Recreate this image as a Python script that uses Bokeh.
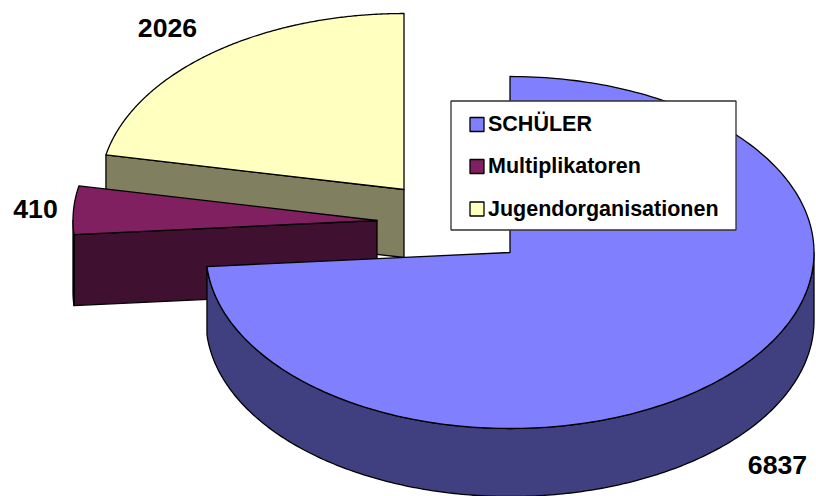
import numpy as np
from bokeh.plotting import figure
from bokeh.embed import file_html
from bokeh.resources import INLINE
from bokeh.core.properties import value

categories = ["SCHÜLER", "Multiplikatoren", "Jugendorganisationen"]
values = [6837, 410, 2026]
labels = ["6837", "410", "2026"]
top_colors = ["#8080FF", "#802060", "#FFFFC0"]
side_colors = ["#404080", "#401030", "#808060"]

# layout, in page pixels
centers = [(509.5, 252.0), (376.5, 220.0), (403.5, 189.0)]
RX, RY, DEPTH = 304.0, 176.0, 68.0
label_pos = [(777, 464), (35, 208), (167, 27)]
FONT = value("Liberation Sans")
LW = 1.3

p = figure(width=816, height=496, x_range=(0, 816), y_range=(496, 0),
           toolbar_location=None, output_backend="svg", min_border=0,
           outline_line_color=None, background_fill_color="white")
p.axis.visible = False
p.grid.visible = False

fr = np.cumsum([0] + values) / sum(values) * 2 * np.pi
slices = [(fr[i], fr[i + 1]) for i in range(3)]


def arc(c, a, b, dy=0.0, n=240):
    t = np.linspace(a, b, n)
    return c[0] + RX * np.sin(t), c[1] - RY * np.cos(t) + dy


def wall(xs, ys, color):
    p.patch(xs, ys, fill_color=color, line_color="black", line_width=LW, line_join="round")


# yellow wedge: cut face then top
c = centers[2]
a, b = slices[2]
ex, ey = arc(c, a, a, n=1)
wall([c[0], ex[0], ex[0], c[0]], [c[1], ey[0], ey[0] + DEPTH, c[1] + DEPTH], side_colors[2])
x, y = arc(c, a, b)
wall(np.r_[c[0], x], np.r_[c[1], y], top_colors[2])

# purple wedge: front face, short outer wall, then top
c = centers[1]
a, b = slices[1]
ex, ey = arc(c, a, a, n=1)
wall([c[0], ex[0], ex[0], c[0]], [c[1], ey[0], ey[0] + DEPTH + 3, c[1] + DEPTH + 3], side_colors[1])
x, y = arc(c, a, 1.5 * np.pi, n=30)
wall(np.r_[x, x[::-1]], np.r_[y, y[::-1] + DEPTH + 3], side_colors[1])
x, y = arc(c, a, b)
wall(np.r_[c[0], x], np.r_[c[1], y], top_colors[1])

# blue wedge: outer wall then top
c = centers[0]
a, b = slices[0]
x, y = arc(c, 0.5 * np.pi, b)
wall(np.r_[x, x[::-1]], np.r_[y, y[::-1] + DEPTH], side_colors[0])
x, y = arc(c, a, b)
wall(np.r_[c[0], x], np.r_[c[1], y], top_colors[0])

# legend
p.quad(left=[450.5], right=[735.5], top=[100.5], bottom=[229.5],
       fill_color="white", line_color="#303030", line_width=LW)
sw_y = [124, 166, 208.5]
text_y = [123, 165.5, 208]
for cat, col, yy, ty in zip(categories, top_colors, sw_y, text_y):
    p.quad(left=[469.5], right=[483.5], top=[yy - 7], bottom=[yy + 7],
           fill_color=col, line_color="black", line_width=LW)
    p.text([487.5], [ty], text=[cat], text_font=FONT, text_font_style="bold",
           text_font_size="21.5px", text_color="black",
           text_baseline="middle", text_align="left")

for lab, (lx, ly) in zip(labels, label_pos):
    p.text([lx], [ly], text=[lab], text_font=FONT, text_font_style="bold",
           text_font_size="26.67px", text_color="black",
           text_baseline="middle", text_align="center")

open("out.html", "w").write(file_html(p, INLINE))
